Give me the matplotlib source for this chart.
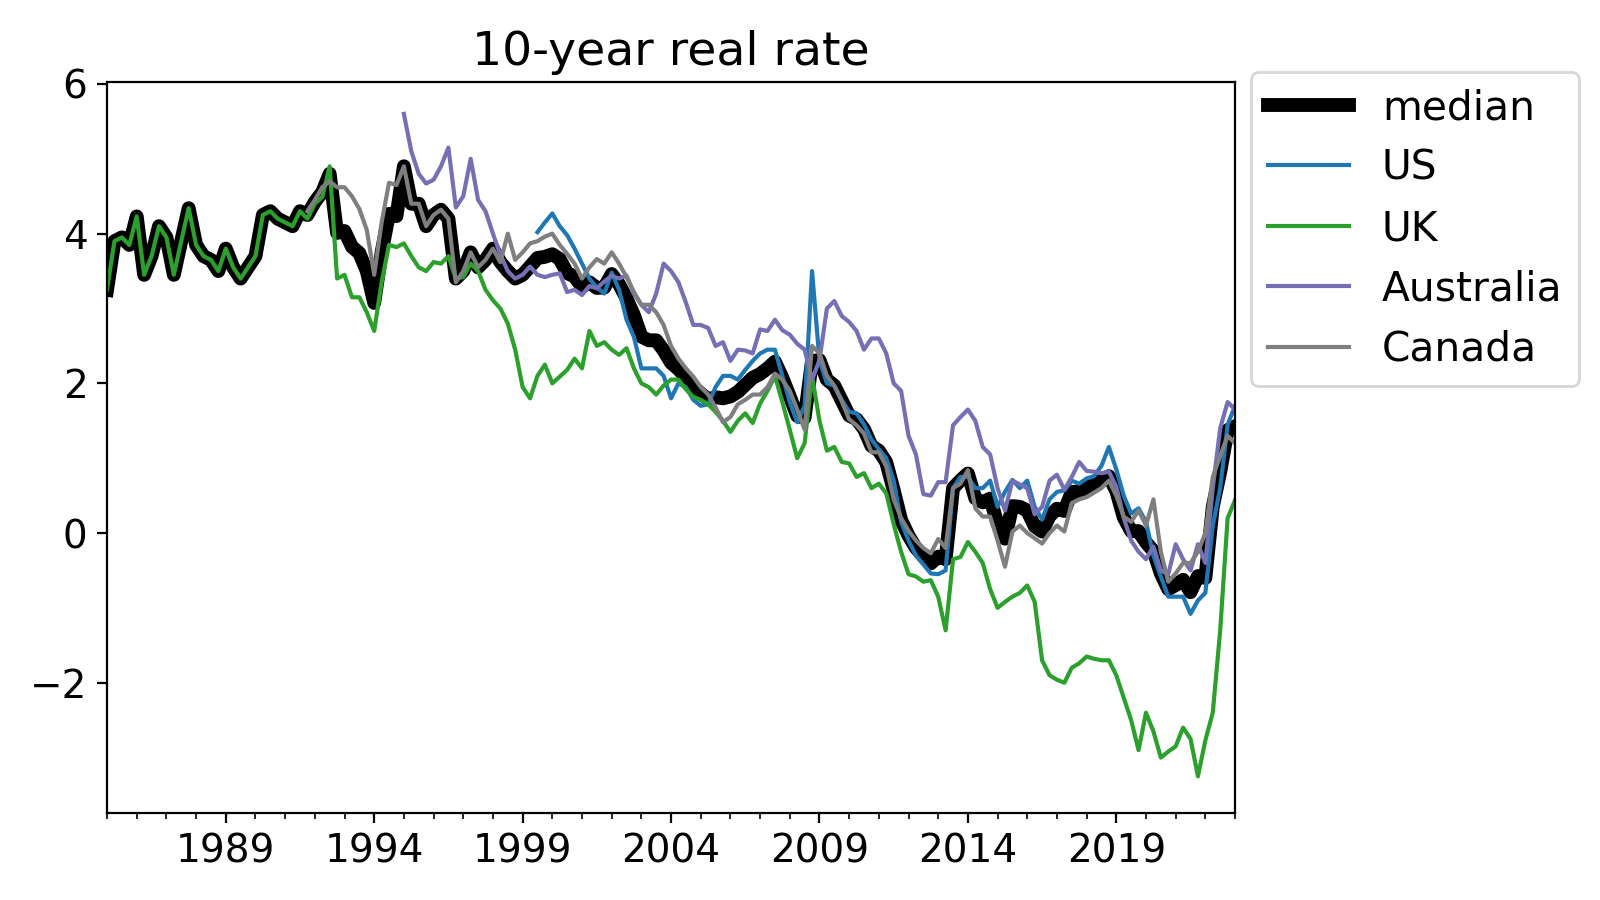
import numpy as np
import pandas as pd
import matplotlib
matplotlib.use("Agg")
import matplotlib.pyplot as plt
from matplotlib.ticker import MultipleLocator, FixedLocator

plt.rcParams["font.size"] = 14

# quarterly readings, 10-year real rate (%)
uk_start = "1985Q1"
uk = [3.25, 3.9, 3.95, 3.85,
      4.23, 3.45, 3.7, 4.1,
      3.95, 3.45, 3.9, 4.34,
      3.85, 3.7, 3.65, 3.5,
      3.8, 3.55, 3.4, 3.55,
      3.7, 4.25, 4.3, 4.2,
      4.15, 4.1, 4.3, 4.2,
      4.4, 4.49, 4.9, 3.4,
      3.45, 3.15, 3.15, 2.95,
      2.7, 3.35, 3.85, 3.82,
      3.87, 3.7, 3.55, 3.5,
      3.62, 3.6, 3.7, 3.4,
      3.42, 3.6, 3.5, 3.25,
      3.11, 3.0, 2.8, 2.45,
      1.95, 1.8, 2.1, 2.25,
      2.0, 2.09, 2.18, 2.33,
      2.2, 2.7, 2.5, 2.55,
      2.45, 2.38, 2.47, 2.2,
      2.0, 1.95, 1.85, 1.97,
      2.05, 2.05, 1.92, 1.82,
      1.78, 1.72, 1.62, 1.5,
      1.35, 1.5, 1.6, 1.47,
      1.73, 1.9, 2.1, 1.75,
      1.38, 1.0, 1.2, 2.1,
      1.5, 1.1, 1.15, 0.95,
      0.93, 0.75, 0.8, 0.6,
      0.66, 0.53, 0.12, -0.25,
      -0.55, -0.58, -0.65, -0.63,
      -0.85, -1.3, -0.35, -0.32,
      -0.12, -0.25, -0.4, -0.75,
      -1.0, -0.92, -0.85, -0.8,
      -0.7, -0.92, -1.7, -1.9,
      -1.96, -2.0, -1.8, -1.74,
      -1.65, -1.68, -1.7, -1.7,
      -1.9, -2.2, -2.5, -2.9,
      -2.4, -2.65, -3.0, -2.92,
      -2.85, -2.6, -2.75, -3.25,
      -2.77, -2.4, -1.3, 0.2,
      0.44]

canada_start = "1991Q4"
canada = [4.3,
          4.45, 4.62, 4.7, 4.62,
          4.62, 4.5, 4.33, 4.05,
          3.45, 4.15, 4.68, 4.65,
          4.9, 4.4, 4.4, 4.1,
          4.25, 4.32, 4.2, 3.35,
          3.5, 3.75, 3.55, 3.65,
          3.8, 3.62, 4.0, 3.65,
          3.75, 3.87, 3.9, 3.96,
          4.0, 3.85, 3.73, 3.6,
          3.4, 3.55, 3.66, 3.6,
          3.75, 3.6, 3.42, 3.22,
          3.05, 3.05, 2.95, 2.78,
          2.5, 2.33, 2.2, 2.09,
          1.95, 1.85, 1.68, 1.48,
          1.55, 1.72, 1.78, 1.85,
          1.85, 1.95, 2.13, 2.05,
          1.9, 1.65, 1.38, 2.5,
          2.4, 2.1, 1.97, 1.76,
          1.52, 1.44, 1.33, 1.08,
          1.08, 0.89, 0.45, 0.2,
          0.03, -0.1, -0.2, -0.27,
          -0.08, -0.2, 0.6, 0.66,
          0.84, 0.33, 0.22, 0.22,
          -0.1, -0.45, 0.02, 0.1,
          0.0, -0.07, -0.14, 0.0,
          0.1, 0.02, 0.4, 0.45,
          0.48, 0.54, 0.6, 0.7,
          0.5, 0.22, 0.15, 0.3,
          0.1, 0.45, -0.25, -0.65,
          -0.54, -0.4, -0.4, -0.25,
          0.0, 0.75, 1.03, 1.3,
          1.2]

australia_start = "1995Q1"
australia = [5.6, 5.1, 4.8, 4.67,
             4.72, 4.9, 5.15, 4.35,
             4.5, 5.0, 4.45, 4.3,
             4.0, 3.72, 3.5, 3.4,
             3.45, 3.56, 3.45, 3.42,
             3.45, 3.47, 3.22, 3.25,
             3.18, 3.3, 3.27, 3.36,
             3.44, 3.4, 3.44, 3.2,
             3.05, 2.95, 3.2, 3.6,
             3.5, 3.35, 3.08, 2.78,
             2.78, 2.74, 2.5, 2.55,
             2.3, 2.45, 2.44, 2.4,
             2.72, 2.7, 2.85, 2.71,
             2.65, 2.53, 2.45, 2.05,
             2.31, 3.0, 3.1, 2.9,
             2.82, 2.7, 2.45, 2.6,
             2.6, 2.4, 2.0, 1.9,
             1.3, 1.05, 0.52, 0.5,
             0.68, 0.68, 1.44, 1.55,
             1.65, 1.5, 1.15, 1.05,
             0.6, 0.3, 0.7, 0.65,
             0.6, 0.25, 0.35, 0.7,
             0.78, 0.58, 0.75, 0.95,
             0.83, 0.82, 0.8, 0.82,
             0.62, 0.2, -0.1, -0.25,
             -0.35, -0.18, -0.5, -0.55,
             -0.15, -0.35, -0.5, -0.15,
             -0.4, 0.6, 1.4, 1.75,
             1.65]

us_start = "1999Q3"
us = [4.02, 4.15,
      4.27, 4.1, 3.98, 3.8,
      3.6, 3.4, 3.28, 3.2,
      3.48, 3.25, 2.85, 2.62,
      2.2, 2.2, 2.2, 2.1,
      1.8, 2.0, 1.95, 1.78,
      1.7, 1.72, 1.95, 2.1,
      2.1, 2.05, 2.18, 2.3,
      2.4, 2.45, 2.45, 2.1,
      1.75, 1.48, 1.7, 3.5,
      2.31, 2.0, 1.97, 1.78,
      1.62, 1.6, 1.45, 1.25,
      1.12, 1.0, 0.7, 0.15,
      -0.1, -0.3, -0.42, -0.54,
      -0.55, -0.5, 0.6, 0.75,
      0.75, 0.6, 0.6, 0.7,
      0.35, 0.55, 0.71, 0.6,
      0.7, 0.35, 0.18, 0.45,
      0.55, 0.57, 0.7, 0.66,
      0.73, 0.76, 0.9, 1.15,
      0.85, 0.5, 0.26, 0.33,
      0.15, -0.3, -0.58, -0.85,
      -0.85, -0.85, -1.08, -0.9,
      -0.8, 0.1, 0.6, 1.45,
      1.7]

quarters = pd.period_range("1985Q1", "2023Q1", freq="Q")


def to_series(start, vals):
    idx = pd.period_range(start, periods=len(vals), freq="Q")
    return pd.Series(vals, index=idx)


df = pd.DataFrame({
    "US": to_series(us_start, us),
    "UK": to_series(uk_start, uk),
    "Australia": to_series(australia_start, australia),
    "Canada": to_series(canada_start, canada),
}).reindex(quarters)
df["median"] = df[["US", "UK", "Australia", "Canada"]].median(axis=1)

x = quarters.year + (quarters.quarter - 1) / 4.0

colors = {"US": "#1f77b4", "UK": "#2ca02c", "Australia": "#7570b3", "Canada": "#7f7f7f"}

fig = plt.figure(figsize=(8, 4.5), dpi=200)
ax = fig.add_axes([0.0669, 0.0967, 0.705, 0.8125])

ax.plot(x, df["median"], color="black", lw=5, label="median")
for name in ["US", "UK", "Australia", "Canada"]:
    ax.plot(x, df[name], color=colors[name], lw=1.5, label=name)

ax.set_xlim(1985, 2023)
ax.set_ylim(-3.74, 6.03)
ax.xaxis.set_major_locator(FixedLocator([1989, 1994, 1999, 2004, 2009, 2014, 2019]))
ax.xaxis.set_minor_locator(MultipleLocator(1))
ax.set_yticks([-2, 0, 2, 4, 6])
ax.set_title("10-year real rate", fontsize=17)

ax.legend(loc="upper left", bbox_to_anchor=(0.782, 0.92), bbox_transform=fig.transFigure,
          borderaxespad=0, handlelength=2.0, fontsize=14.7)

fig.savefig("out.png", dpi=200)
